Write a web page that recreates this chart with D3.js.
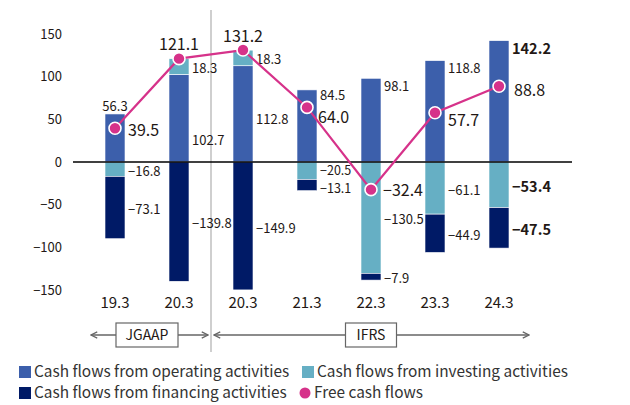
<!DOCTYPE html>
<html lang="en">
<head>
<meta charset="UTF-8">
<title>Cash flows</title>
<script src="https://d3js.org/d3.v7.min.js"></script>
<style>
    body { margin: 0; background: #fff; }
    svg text { font-family: "Noto Sans CJK JP", "Noto Sans", sans-serif; fill: #231815; }
</style>
</head>
<body>
<div id="chart"></div>
<script>
// data
const categories = ["19.3", "20.3", "20.3", "21.3", "22.3", "23.3", "24.3"];
const operating = [56.3, 102.7, 112.8, 84.5, 98.1, 118.8, 142.2];
const investing = [-16.8, 18.3, 18.3, -20.5, -130.5, -61.1, -53.4];
const financing = [-73.1, -139.8, -149.9, -13.1, -7.9, -44.9, -47.5];
const freeCF = [39.5, 121.1, 131.2, 64.0, -32.4, 57.7, 88.8];
const yTicks = [150, 100, 50, 0, -50, -100, -150];
const periods = [{ name: "JGAAP", from: 0, to: 1 }, { name: "IFRS", from: 2, to: 6 }];

const colors = { op: "#3c5fab", inv: "#66afc4", fin: "#001a66", fcf: "#d6328a" };

const width = 630, height = 405;
const svg = d3.select("#chart").append("svg")
    .attr("width", width).attr("height", height);

const idx = d3.range(categories.length);
const x = d3.scaleBand().domain(idx).range([83, 531])
    .paddingInner(0.6875).paddingOuter(0.34375);
const y = d3.scaleLinear().domain([-150, 150]).range([290, 34]);
const bw = x.bandwidth();
const cx = i => x(i) + bw / 2;

// y axis labels
svg.append("g").selectAll("text").data(yTicks).join("text")
    .attr("x", 62).attr("y", d => y(d)).attr("dy", "0.35em")
    .attr("text-anchor", "end").style("font-size", "13px")
    .text(d => d < 0 ? "\u2212" + Math.abs(d) : d);

// separator between JGAAP and IFRS
const sepX = (cx(1) + cx(2)) / 2;
svg.append("line")
    .attr("x1", sepX).attr("x2", sepX)
    .attr("y1", 10).attr("y2", 352)
    .attr("stroke", "#cfcfcf").attr("stroke-width", 2);

// stacked segments
const segs = [];
idx.forEach(i => {
    let pos = 0, neg = 0;
    [["op", operating[i]], ["inv", investing[i]], ["fin", financing[i]]].forEach(([k, v]) => {
        if (v >= 0) { segs.push({ i, k, v, y0: pos, y1: pos + v }); pos += v; }
        else { segs.push({ i, k, v, y0: neg, y1: neg + v }); neg += v; }
    });
});

svg.append("g").selectAll("rect").data(segs).join("rect")
    .attr("x", d => x(d.i)).attr("width", bw)
    .attr("y", d => y(Math.max(d.y0, d.y1)))
    .attr("height", d => Math.abs(y(d.y0) - y(d.y1)))
    .attr("fill", d => colors[d.k])
    .attr("stroke", "#fff").attr("stroke-width", 0.6);

// zero line
svg.append("line").attr("x1", 73).attr("x2", 572)
    .attr("y1", y(0)).attr("y2", y(0))
    .attr("stroke", "#000").attr("stroke-width", 1.5);

const fmt = v => (v < 0 ? "\u2212" + Math.abs(v).toFixed(1) : v.toFixed(1));
const last = categories.length - 1;

// segment labels
svg.append("g").selectAll("text").data(segs).join("text")
    .attr("x", d => (d.k === "op" && d.i === 0) ? cx(d.i) : x(d.i) + bw + 3)
    .attr("y", d => {
        if (d.k === "op" && d.i === 0) return y(d.y1) - 8;
        if (d.k === "op" && d.i === 3) return y(d.y1) + 6;
        if (d.k === "op" && d.i > 2) return y(d.y1) + 8;
        if (d.k === "op" && d.i === 1) return y((d.y0 + d.y1) / 2) + 22;
        if (d.k === "op" && d.i === 2) return y((d.y0 + d.y1) / 2) + 6;
        if (d.i === 3) return y((d.y0 + d.y1) / 2) + (d.k === "inv" ? 0 : 4);
        return y((d.y0 + d.y1) / 2) + 2;
    })
    .attr("dy", "0.35em")
    .attr("text-anchor", d => (d.k === "op" && d.i === 0) ? "middle" : "start")
    .style("font-size", d => d.i === last ? "14.5px" : (d.i === 3 && d.k !== "op" ? "12.5px" : "13px"))
    .style("font-weight", d => d.i === last ? 700 : 400)
    .text(d => fmt(d.v));

// free cash flow line
const line = d3.line().x((d, i) => cx(i)).y(d => y(d));
svg.append("path").datum(freeCF)
    .attr("d", line).attr("fill", "none")
    .attr("stroke", colors.fcf).attr("stroke-width", 2.2);

svg.append("g").selectAll("circle").data(freeCF).join("circle")
    .attr("cx", (d, i) => cx(i)).attr("cy", d => y(d)).attr("r", 6)
    .attr("fill", colors.fcf).attr("stroke", "#fff").attr("stroke-width", 1.6);

const fcfOffset = [[13, 2], [0, -14], [0, -14], [11, 10], [12, 1], [13, 8], [15, 4]];
svg.append("g").selectAll("text").data(freeCF).join("text")
    .attr("x", (d, i) => cx(i) + fcfOffset[i][0])
    .attr("y", (d, i) => y(d) + fcfOffset[i][1])
    .attr("dy", "0.35em")
    .attr("text-anchor", (d, i) => fcfOffset[i][0] === 0 ? "middle" : "start")
    .style("font-size", "16px")
    .text(d => fmt(d));

// category labels
svg.append("g").selectAll("text").data(categories).join("text")
    .attr("x", (d, i) => cx(i)).attr("y", 303).attr("dy", "0.35em")
    .attr("text-anchor", "middle").style("font-size", "15px")
    .text(d => d);

// period brackets
const defs = svg.append("defs");
defs.append("marker").attr("id", "arr").attr("viewBox", "0 0 10 10")
    .attr("refX", 9).attr("refY", 5).attr("markerWidth", 6).attr("markerHeight", 6)
    .attr("orient", "auto-start-reverse")
    .append("path").attr("d", "M1,1 L9,5 L1,9").attr("fill", "none")
    .attr("stroke", "#666").attr("stroke-width", 1.5);

const bracketY = 335;
const spans = [[91, sepX - 3], [sepX + 3, 529]];
periods.forEach((p, j) => {
    const [a, b] = spans[j];
    svg.append("line").attr("x1", a).attr("x2", b)
        .attr("y1", bracketY).attr("y2", bracketY)
        .attr("stroke", "#666").attr("stroke-width", 1.3)
        .attr("marker-start", "url(#arr)").attr("marker-end", "url(#arr)");
    const mid = (cx(p.from) + cx(p.to)) / 2;
    const bwid = j === 0 ? 62 : 51;
    svg.append("rect").attr("x", mid - bwid / 2).attr("y", bracketY - 12)
        .attr("width", bwid).attr("height", 24)
        .attr("fill", "#fff").attr("stroke", "#666").attr("stroke-width", 1.2);
    svg.append("text").attr("x", mid).attr("y", bracketY).attr("dy", "0.35em")
        .attr("text-anchor", "middle").style("font-size", "14px").text(p.name);
});

// legend
const legend = [
    { label: "Cash flows from operating activities", c: colors.op, t: "rect", x: 19, y: 372 },
    { label: "Cash flows from investing activities", c: colors.inv, t: "rect", x: 302, y: 372 },
    { label: "Cash flows from financing activities", c: colors.fin, t: "rect", x: 19, y: 393 },
    { label: "Free cash flows", c: colors.fcf, t: "circle", x: 299, y: 393 }
];
const lg = svg.append("g").selectAll("g").data(legend).join("g")
    .attr("transform", d => `translate(${d.x},${d.y})`);
lg.filter(d => d.t === "rect").append("rect")
    .attr("x", 0).attr("y", -6).attr("width", 12).attr("height", 12).attr("fill", d => d.c);
lg.filter(d => d.t === "circle").append("circle")
    .attr("cx", 6).attr("cy", 0).attr("r", 5.5).attr("fill", d => d.c);
lg.append("text").attr("x", 15).attr("y", 0).attr("dy", "0.35em")
    .style("font-size", "15.4px").style("fill", "#333").text(d => d.label);
</script>
</body>
</html>
